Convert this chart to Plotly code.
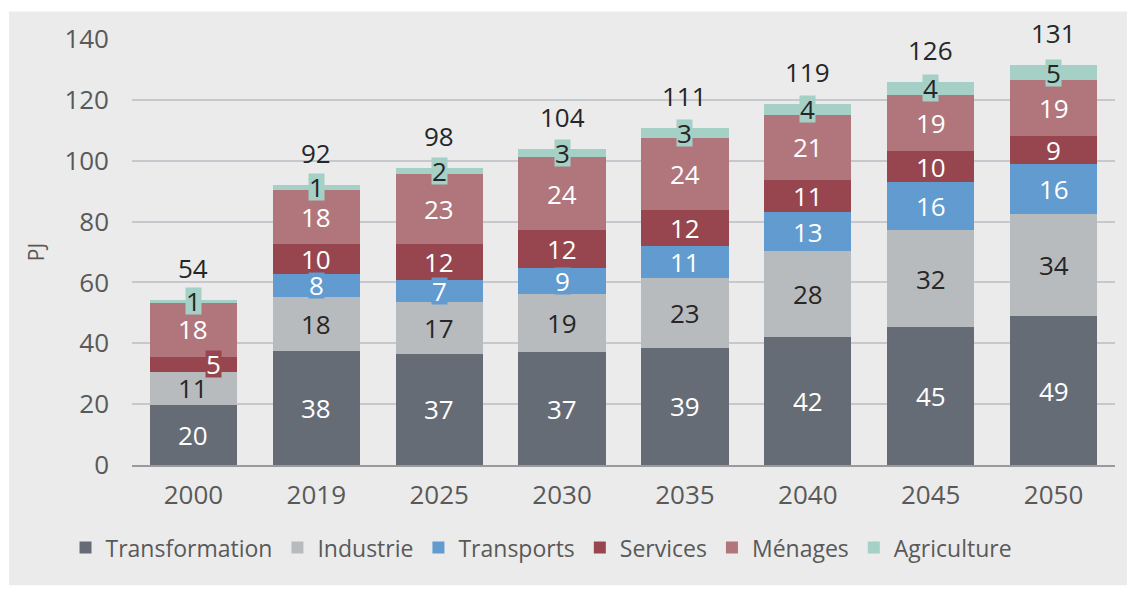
import plotly.graph_objects as go

years = ["2000", "2019", "2025", "2030", "2035", "2040", "2045", "2050"]
transformation = [19.8, 37.6, 36.6, 37.0, 38.6, 42.0, 45.4, 48.9]
industrie = [10.8, 17.6, 17.0, 19.2, 22.9, 28.2, 31.7, 33.6]
transports = [0.0, 7.7, 7.3, 8.6, 10.6, 12.9, 15.9, 16.4]
services = [5.0, 9.6, 11.6, 12.3, 11.8, 10.6, 10.1, 9.1]
menages = [17.9, 18.0, 23.2, 24.0, 23.6, 21.3, 18.6, 18.6]
agriculture = [0.6, 1.4, 1.9, 2.6, 3.4, 3.8, 4.2, 4.7]

series = [
    ("Transformation", transformation, "#666c76", "white"),
    ("Industrie", industrie, "#b8bbbe", "#262626"),
    ("Transports", transports, "#619bd0", "white"),
    ("Services", services, "#97464f", "white"),
    ("Ménages", menages, "#b1767c", "white"),
    ("Agriculture", agriculture, "#a5d0c6", "#262626"),
]

FONT = "Open Sans, Liberation Sans, sans-serif"
FS = 26

fig = go.Figure()
annotations = []
base = [0.0] * len(years)
for name, vals, color, tcolor in series:
    fig.add_trace(go.Bar(name=name, x=years, y=vals, marker=dict(color=color, line=dict(width=0))))
    for i, v in enumerate(vals):
        if round(v) >= 1:
            xshift = 0
            if name == "Services" and years[i] == "2000":
                xshift = 20
            annotations.append(dict(
                x=i, y=base[i] + v / 2, text=str(int(round(v))), showarrow=False,
                xref="x", yref="y", bgcolor=color, borderpad=0, xshift=xshift,
                height=26,
                font=dict(family=FONT, size=FS, color=tcolor),
            ))
        base[i] += v

for i in range(len(years)):
    annotations.append(dict(
        x=i, y=base[i], text=str(int(round(base[i]))), showarrow=False,
        xref="x", yref="y", yshift=32,
        font=dict(family=FONT, size=FS, color="#262626"),
    ))

fig.update_layout(
    barmode="stack",
    bargap=0.289,
    width=1127, height=583,
    margin=dict(l=124, r=20, t=25, b=126),
    paper_bgcolor="white",
    plot_bgcolor="rgba(0,0,0,0)",
    font=dict(family=FONT, size=FS, color="#595959"),
    annotations=annotations,
    shapes=[dict(type="rect", xref="paper", yref="paper",
                 x0=-0.1251, x1=1.0153, y0=-0.2824, y1=1.0648,
                 fillcolor="#ebebeb", line=dict(width=0), layer="below")],
    legend=dict(orientation="h", x=0.4166, xanchor="center", y=-0.194, yanchor="middle",
                font=dict(family=FONT, size=23, color="#595959"),
                itemwidth=30, bgcolor="rgba(0,0,0,0)", traceorder="normal"),
    showlegend=True,
)
fig.update_xaxes(type="category", range=[-0.5, len(years) - 0.5], showline=True,
                 linecolor="#9a9a9a", linewidth=2,
                 ticks="", ticklabelstandoff=6, showgrid=False,
                 tickfont=dict(family=FONT, size=FS, color="#595959"))
fig.update_yaxes(range=[0, 140], dtick=20, showgrid=True, gridcolor="#c5c8cc", gridwidth=2,
                 zeroline=False, showline=False, ticks="", ticklabelstandoff=22,
                 tickfont=dict(family=FONT, size=FS, color="#595959"),
                 title=dict(text="PJ", standoff=14, font=dict(family=FONT, size=21, color="#595959")))

fig.write_html("out.html")
